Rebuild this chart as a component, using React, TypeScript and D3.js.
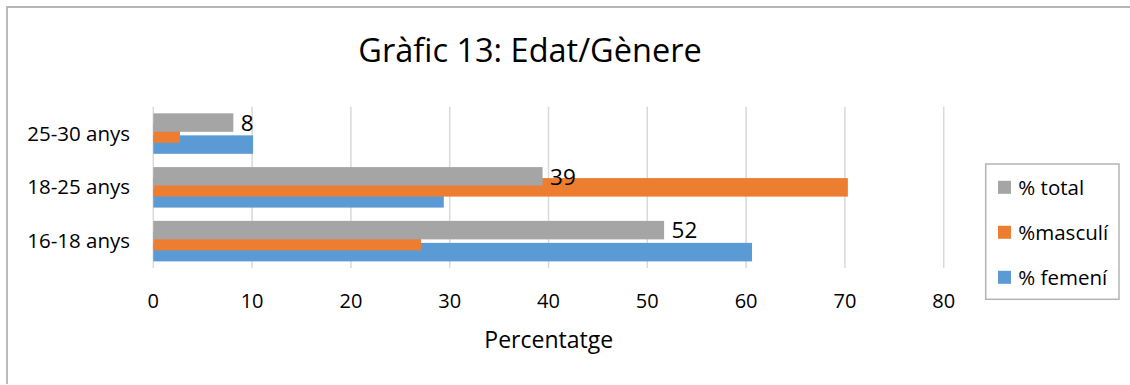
import React from "react";
import * as d3 from "d3";

const categories = ["25-30 anys", "18-25 anys", "16-18 anys"];
const seriesNames = ["% total", "%masculí", "% femení"];
const totalValues = [8.1, 39.4, 51.7];
const maleValues = [2.7, 70.3, 27.1];
const femaleValues = [10.1, 29.4, 60.6];
const totalLabels = ["8", "39", "52"];
const xTicks = [0, 10, 20, 30, 40, 50, 60, 70, 80];
const colors = ["#a5a5a5", "#ed7d31", "#5b9bd5"];

const W = 1130;
const H = 385;
const FONT = "'Open Sans', 'Noto Sans', sans-serif";

export default function App() {
  const x = d3.scaleLinear().domain([0, 80]).range([153.3, 943.7]);
  const y = d3.scaleBand<string>().domain(categories).range([106.7, 268]).padding(0);
  const inner = d3.scalePoint<string>().domain(seriesNames).range([-11, 11]);
  const barH = 18.5;
  const seriesValues = [totalValues, maleValues, femaleValues];
  // draw order: femení, masculí, total (later on top)
  const drawOrder = [2, 1, 0];

  return (
    <svg width={W} height={H} style={{ position: "absolute", left: 0, top: 0, background: "#fff" }}>
      <rect x={0} y={0} width={W} height={H} fill="#fff" />
      {/* chart border */}
      <path d={`M7,384 L7,7 L${W + 5},7`} fill="none" stroke="#b4b4b4" strokeWidth={1.8} />
      {/* title */}
      <text x={530} y={61.7} textAnchor="middle" fontFamily={FONT} fontSize={32.5} fill="#000">
        Gràfic 13: Edat/Gènere
      </text>
      {/* gridlines */}
      {xTicks.map((t) => (
        <line key={t} x1={x(t)} x2={x(t)} y1={106.7} y2={268} stroke="#d9d9d9" strokeWidth={1.5} />
      ))}
      {/* bars */}
      {categories.map((c, ci) => {
        const cy = (y(c) as number) + y.bandwidth() / 2;
        return (
          <g key={c}>
            {drawOrder.map((si) => {
              const yc = cy + (inner(seriesNames[si]) as number);
              return (
                <rect
                  key={si}
                  x={x(0)}
                  y={yc - barH / 2}
                  width={x(seriesValues[si][ci]) - x(0)}
                  height={barH}
                  fill={colors[si]}
                />
              );
            })}
          </g>
        );
      })}
      {/* data labels for total */}
      {categories.map((c, ci) => {
        const cy = (y(c) as number) + y.bandwidth() / 2 + (inner(seriesNames[0]) as number);
        return (
          <text key={c} x={x(totalValues[ci]) + 7.5} y={cy + 8.3} fontFamily={FONT} fontSize={22.5} fill="#000">
            {totalLabels[ci]}
          </text>
        );
      })}
      {/* category labels */}
      {categories.map((c) => (
        <text
          key={c}
          x={130}
          y={(y(c) as number) + y.bandwidth() / 2 + 7}
          textAnchor="end"
          fontFamily={FONT}
          fontSize={20.5}
          fill="#000"
        >
          {c}
        </text>
      ))}
      {/* x tick labels */}
      {xTicks.map((t) => (
        <text key={t} x={x(t)} y={308.3} textAnchor="middle" fontFamily={FONT} fontSize={20} fill="#000">
          {t}
        </text>
      ))}
      {/* axis title */}
      <text x={548.7} y={348.3} textAnchor="middle" fontFamily={FONT} fontSize={23} fill="#000">
        Percentatge
      </text>
      {/* legend */}
      <rect x={985.7} y={164} width={133.3} height={135.3} fill="#fff" stroke="#b4b4b4" strokeWidth={1.5} />
      {seriesNames.map((s, i) => {
        const cy = 187.3 + i * 45;
        return (
          <g key={s}>
            <rect x={998} y={cy - 6.5} width={13} height={13} fill={colors[i]} />
            <text x={1018.3} y={cy + 7.2} fontFamily={FONT} fontSize={20.5} fill="#000">
              {s}
            </text>
          </g>
        );
      })}
    </svg>
  );
}
